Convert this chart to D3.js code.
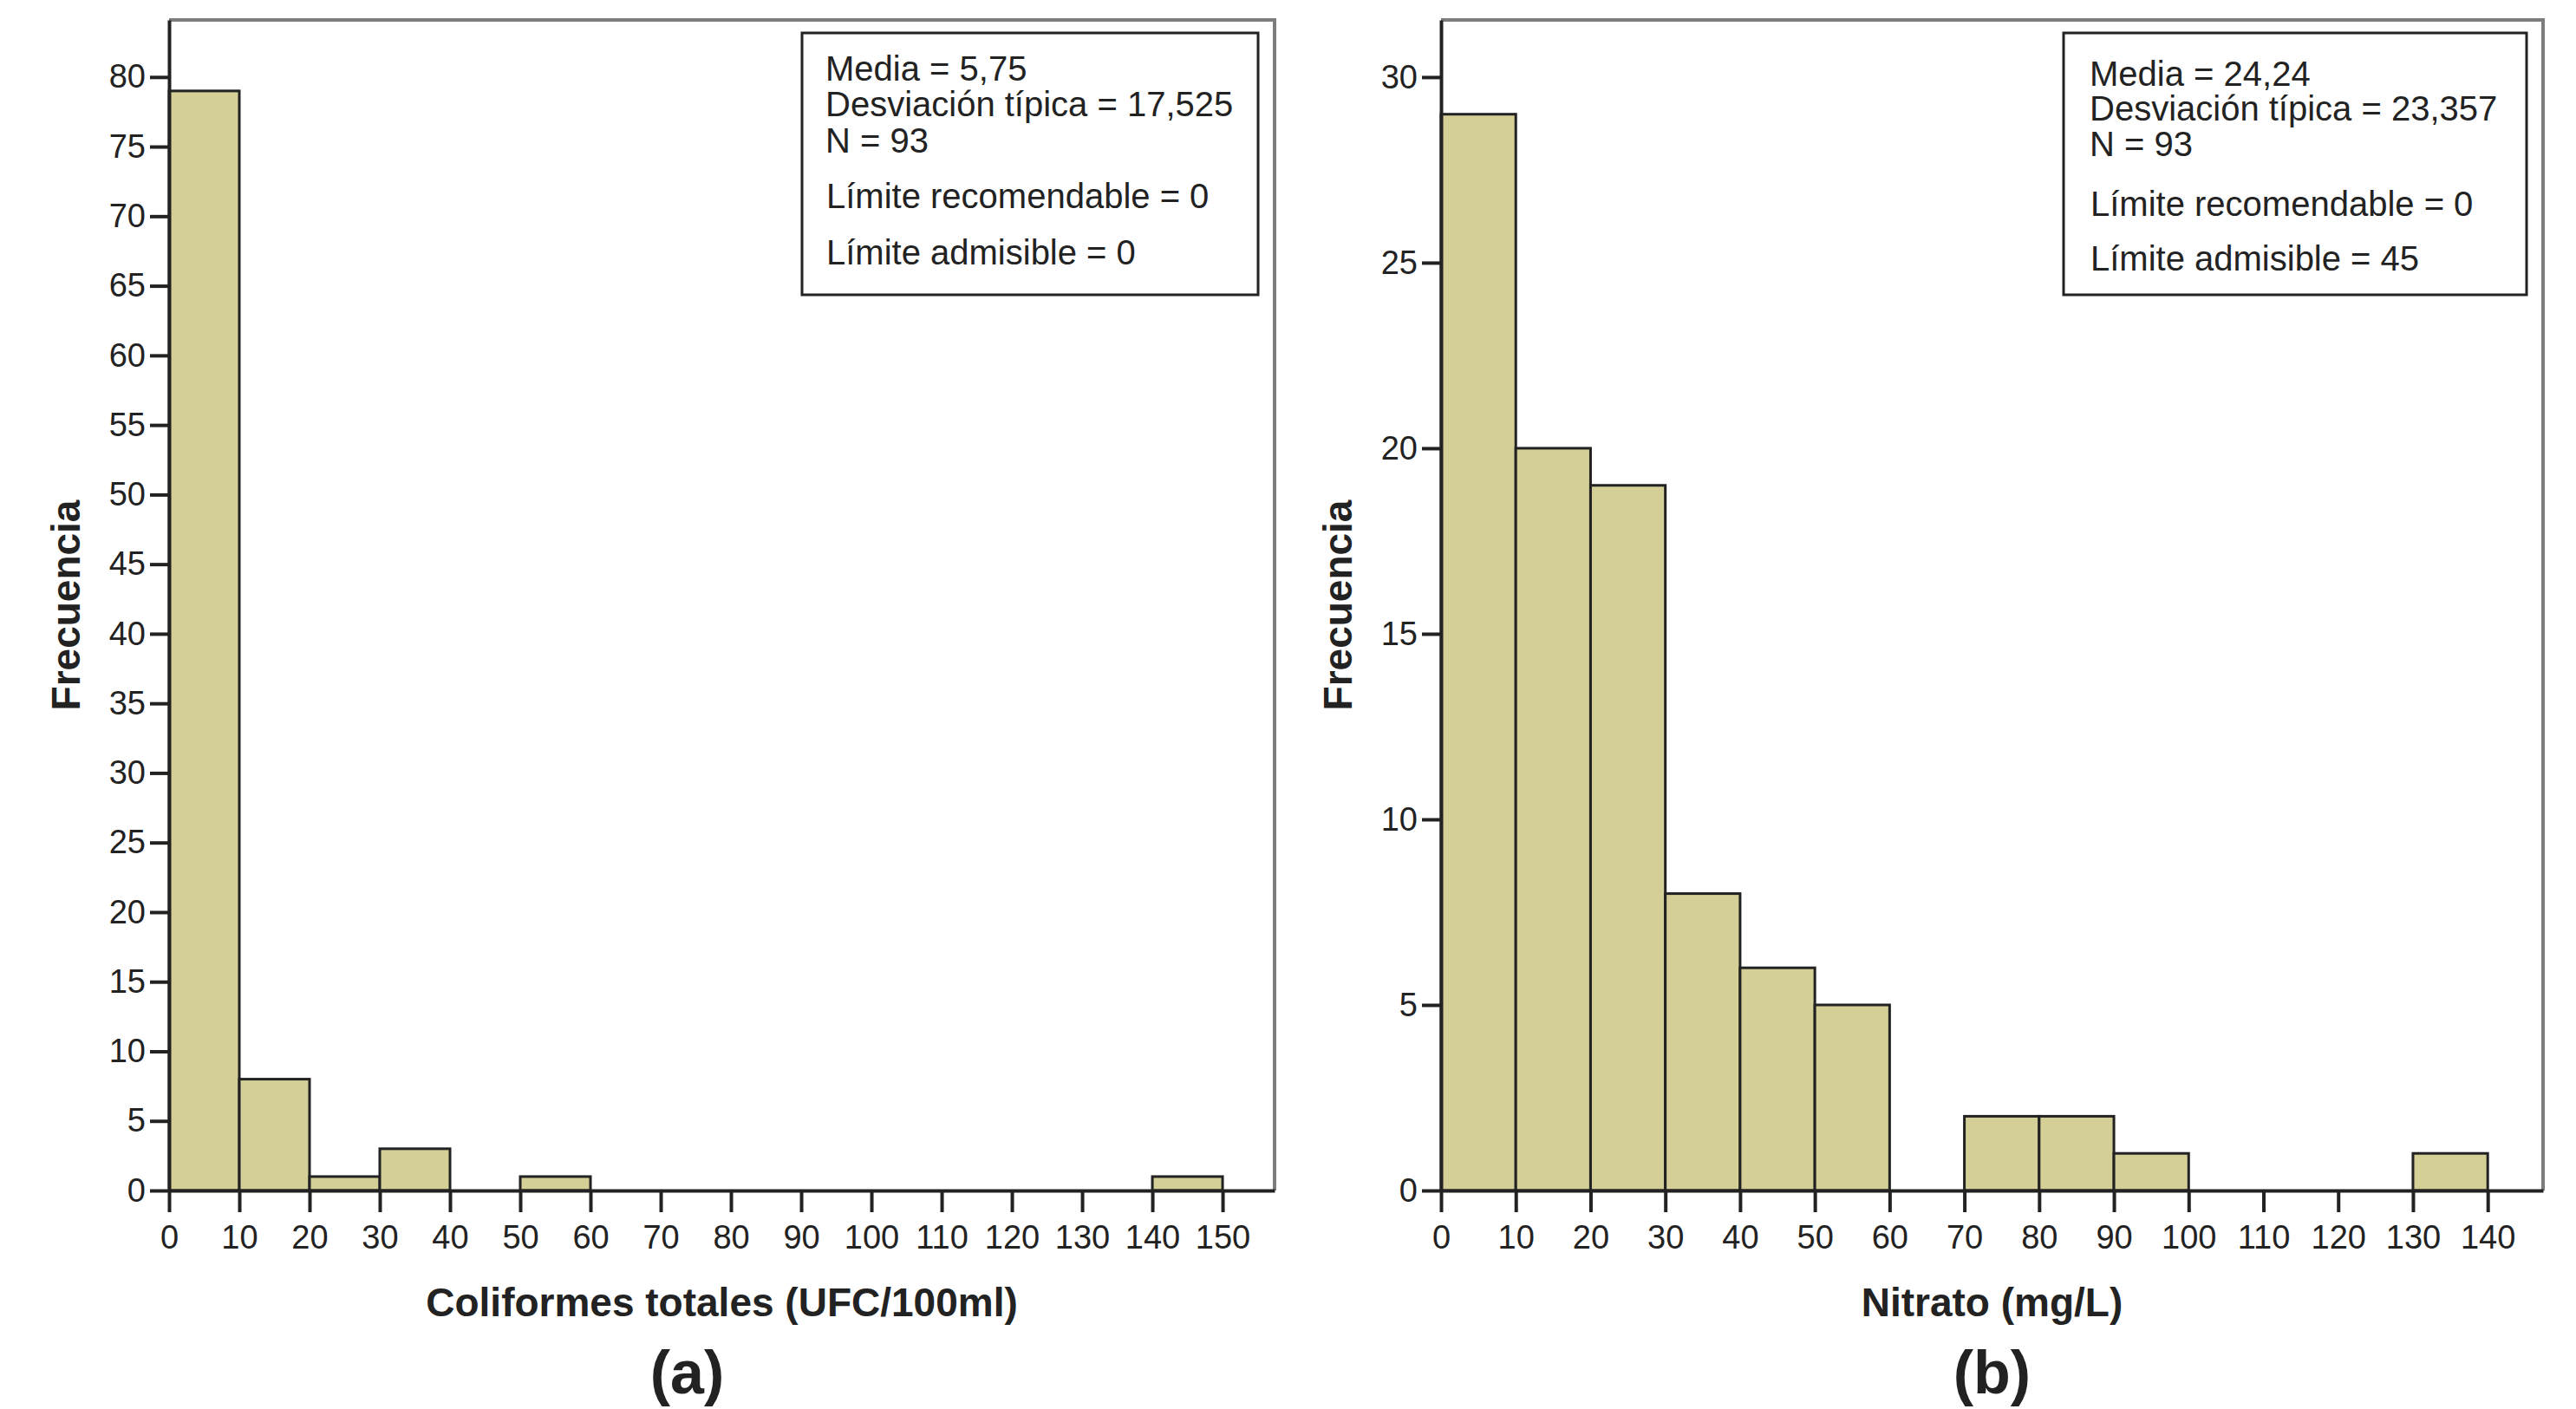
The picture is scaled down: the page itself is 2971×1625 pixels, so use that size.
<!DOCTYPE html>
<html>
  <head>
    <meta charset="utf-8">
    <title>Histogramas: coliformes y nitrato</title>
    <script src="https://d3js.org/d3.v7.min.js"></script>
    <style>
      body { margin: 0; background: #fff; }
      text { font-family: "Liberation Sans", Arial, sans-serif; fill: #222; }
      .tick text { font-size: 38px; }
      .axisLabel { font-size: 46px; font-weight: bold; }
      .panelLabel { font-size: 70px; font-weight: bold; }
      .stat { font-size: 40px; }
    </style>
  </head>
  <body>
    <svg id="chart" width="2971" height="1625"></svg>
    <script>
      // data
      // (a) coliformes totales, bins of 10 from 0 to 150
      binStartsA = [0, 10, 20, 30, 40, 50, 60, 70, 80, 90, 100, 110, 120, 130, 140];
      countsA = [79, 8, 1, 3, 0, 1, 0, 0, 0, 0, 0, 0, 0, 0, 1];
      xTicksA = [0, 10, 20, 30, 40, 50, 60, 70, 80, 90, 100, 110, 120, 130, 140, 150];
      yTicksA = [0, 5, 10, 15, 20, 25, 30, 35, 40, 45, 50, 55, 60, 65, 70, 75, 80];
      statsA = ["Media = 5,75", "Desviación típica = 17,525", "N = 93"];
      limitsA = ["Límite recomendable = 0", "Límite admisible = 0"];
      // (b) nitrato, bins of 10 from 0 to 140
      binStartsB = [0, 10, 20, 30, 40, 50, 60, 70, 80, 90, 100, 110, 120, 130];
      countsB = [29, 20, 19, 8, 6, 5, 0, 2, 2, 1, 0, 0, 0, 1];
      xTicksB = [0, 10, 20, 30, 40, 50, 60, 70, 80, 90, 100, 110, 120, 130, 140];
      yTicksB = [0, 5, 10, 15, 20, 25, 30];
      statsB = ["Media = 24,24", "Desviación típica = 23,357", "N = 93"];
      limitsB = ["Límite recomendable = 0", "Límite admisible = 45"];
      binWidth = 10;

      svg = d3.select("#chart");

      // layout for each panel
      panels = [
        {
          starts: binStartsA, counts: countsA, xTicks: xTicksA, yTicks: yTicksA,
          stats: statsA, limits: limitsA,
          xLabel: "Coliformes totales (UFC/100ml)", tag: "(a)", tagShift: -40,
          left: 195, right: 1470, top: 23, bottom: 1373,
          xMax: 157.4, yMax: 84.1,
          box: { x: 925, y: 38, w: 526, h: 302 }, textX: 952, textY: [93, 134, 176, 240, 305]
        },
        {
          starts: binStartsB, counts: countsB, xTicks: xTicksB, yTicks: yTicksB,
          stats: statsB, limits: limitsB,
          xLabel: "Nitrato (mg/L)", tag: "(b)", tagShift: 0,
          left: 1662, right: 2933, top: 23, bottom: 1373,
          xMax: 147.4, yMax: 31.54,
          box: { x: 2380, y: 38, w: 534, h: 302 }, textX: 2410, textY: [99, 139, 180, 249, 312]
        }
      ];

      panels.forEach(function(p) {
        x = d3.scaleLinear().domain([0, p.xMax]).range([p.left, p.right]);
        y = d3.scaleLinear().domain([0, p.yMax]).range([p.bottom, p.top]);
        g = svg.append("g");

        // gray frame top and right
        g.append("path")
          .attr("d", "M " + p.left + " " + p.top + " H " + p.right + " V " + p.bottom)
          .attr("fill", "none")
          .attr("stroke", "#7d7d7d")
          .attr("stroke-width", 4);

        // bars
        bins = p.starts.map(function(s, i) { return { x0: s, x1: s + binWidth, n: p.counts[i] }; })
          .filter(function(d) { return d.n > 0; });
        g.selectAll(".bar")
          .data(bins)
          .enter().append("rect")
            .attr("class", "bar")
            .attr("x", function(d) { return x(d.x0); })
            .attr("width", function(d) { return x(d.x1) - x(d.x0); })
            .attr("y", function(d) { return y(d.n); })
            .attr("height", function(d) { return y(0) - y(d.n); })
            .attr("fill", "#d3cf97")
            .attr("stroke", "#222")
            .attr("stroke-width", 3);

        // axes
        yAxis = g.append("g")
          .attr("transform", "translate(" + p.left + ",0)")
          .call(d3.axisLeft(y).tickValues(p.yTicks).tickSize(22).tickSizeOuter(0).tickPadding(5));
        xAxis = g.append("g")
          .attr("transform", "translate(0," + p.bottom + ")")
          .call(d3.axisBottom(x).tickValues(p.xTicks).tickSize(25).tickSizeOuter(0).tickPadding(15));
        g.selectAll(".domain").attr("stroke", "#222").attr("stroke-width", 4);
        g.selectAll(".tick line").attr("stroke", "#222").attr("stroke-width", 4);
        g.selectAll(".tick text").attr("fill", "#333").style("font-size", "38px")
          .style("font-family", "'Liberation Sans', Arial, sans-serif");

        // axis titles
        g.append("text")
          .attr("class", "axisLabel")
          .attr("transform", "translate(" + (p.left - 103) + "," + ((p.top + p.bottom) / 2) + ") rotate(-90)")
          .attr("text-anchor", "middle")
          .text("Frecuencia");
        g.append("text")
          .attr("class", "axisLabel")
          .attr("x", (p.left + p.right) / 2)
          .attr("y", 1518)
          .attr("text-anchor", "middle")
          .text(p.xLabel);
        g.append("text")
          .attr("class", "panelLabel")
          .attr("x", (p.left + p.right) / 2 + p.tagShift)
          .attr("y", 1607)
          .attr("text-anchor", "middle")
          .text(p.tag);

        // stats box
        g.append("rect")
          .attr("x", p.box.x).attr("y", p.box.y)
          .attr("width", p.box.w).attr("height", p.box.h)
          .attr("fill", "#fff")
          .attr("stroke", "#222")
          .attr("stroke-width", 3);
        p.stats.concat(p.limits).forEach(function(line, i) {
          g.append("text")
            .attr("class", "stat")
            .attr("x", p.textX + (i > 2 ? 1 : 0))
            .attr("y", p.textY[i])
            .text(line);
        });
      });
    </script>
  </body>
</html>
